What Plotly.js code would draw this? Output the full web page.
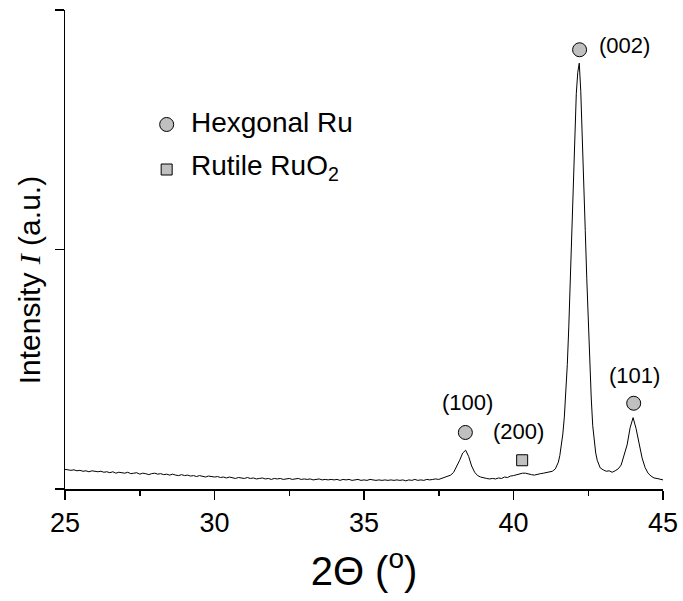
<!DOCTYPE html>
<html>
<head>
<meta charset="utf-8">
<script src="https://cdn.plot.ly/plotly-3.0.1.min.js"></script>
<style>
  html, body { margin: 0; padding: 0; background: #fff; }
  #chart { width: 683px; height: 601px; }
</style>
</head>
<body>
<div id="chart"></div>
<script>
// XRD pattern of the Ru film: 2-theta (degrees) and intensity (a.u.)
var twoTheta = [
  25.0, 25.1, 25.2, 25.3, 25.4, 25.5, 25.6, 25.7, 25.8, 25.9,
  26.0, 26.1, 26.2, 26.3, 26.4, 26.5, 26.6, 26.7, 26.8, 26.9,
  27.0, 27.1, 27.2, 27.3, 27.4, 27.5, 27.6, 27.7, 27.8, 27.9,
  28.0, 28.1, 28.2, 28.3, 28.4, 28.5, 28.6, 28.7, 28.8, 28.9,
  29.0, 29.1, 29.2, 29.3, 29.4, 29.5, 29.6, 29.7, 29.8, 29.9,
  30.0, 30.1, 30.2, 30.3, 30.4, 30.5, 30.6, 30.7, 30.8, 30.9,
  31.0, 31.1, 31.2, 31.3, 31.4, 31.5, 31.6, 31.7, 31.8, 31.9,
  32.0, 32.1, 32.2, 32.3, 32.4, 32.5, 32.6, 32.7, 32.8, 32.9,
  33.0, 33.1, 33.2, 33.3, 33.4, 33.5, 33.6, 33.7, 33.8, 33.9,
  34.0, 34.1, 34.2, 34.3, 34.4, 34.5, 34.6, 34.7, 34.8, 34.9,
  35.0, 35.1, 35.2, 35.3, 35.4, 35.5, 35.6, 35.7, 35.8, 35.9,
  36.0, 36.1, 36.2, 36.3, 36.4, 36.5, 36.6, 36.7, 36.8, 36.9,
  37.0, 37.1, 37.2, 37.3, 37.4, 37.5, 37.6, 37.7, 37.8, 37.9,
  38.0, 38.1, 38.2, 38.3, 38.4, 38.5, 38.6, 38.7, 38.8, 38.9,
  39.0, 39.1, 39.2, 39.3, 39.4, 39.5, 39.6, 39.7, 39.8, 39.9,
  40.0, 40.1, 40.2, 40.3, 40.4, 40.5, 40.6, 40.7, 40.8, 40.9,
  41.0, 41.1, 41.2, 41.3, 41.4, 41.5, 41.55, 41.6, 41.65, 41.7,
  41.75, 41.8, 41.85, 41.9, 41.95, 42.0, 42.05, 42.1, 42.15, 42.2,
  42.25, 42.3, 42.35, 42.4, 42.45, 42.5, 42.55, 42.6, 42.65, 42.7,
  42.75, 42.8, 42.85, 42.9, 43.0, 43.1, 43.2, 43.3, 43.4, 43.5,
  43.6, 43.7, 43.8, 43.9, 44.0, 44.1, 44.2, 44.3, 44.4, 44.5,
  44.6, 44.7, 44.8, 44.9, 45.0
];
var intensity = [
  41, 40, 39, 40, 38, 39, 37, 38, 36, 38,
  37, 36, 37, 35, 36, 34, 36, 33, 35, 34,
  33, 35, 32, 33, 34, 31, 33, 32, 30, 32,
  33, 31, 32, 30, 31, 29, 31, 29, 28, 30,
  28, 29, 27, 28, 26, 28, 27, 25, 27, 26,
  25, 26, 24, 25, 23, 25, 24, 22, 24, 23,
  22, 24, 22, 23, 21, 22, 23, 21, 22, 20,
  22, 21, 22, 20, 21, 22, 20, 21, 22, 20,
  21, 20, 21, 19, 20, 21, 19, 20, 19, 20,
  19, 20, 18, 20, 19, 20, 18, 19, 20, 18,
  19, 18, 20, 19, 18, 19, 18, 19, 18, 19,
  18, 19, 18, 19, 17, 19, 18, 20, 18, 19,
  18, 20, 19, 20, 21, 20, 22, 24, 26, 29,
  35, 46, 60, 75, 81, 68, 48, 35, 28, 25,
  23, 22, 21, 22, 21, 23, 22, 25, 24, 27,
  28, 30, 31, 33, 33, 31, 30, 29, 31, 32,
  33, 34, 35, 37, 42, 56, 70, 90, 115, 150,
  195, 260, 340, 440, 550, 650, 740, 825, 870, 889,
  830, 745, 640, 540, 440, 350, 270, 190, 132, 98,
  75, 60, 50, 44, 40, 37, 38, 35, 38, 42,
  50, 70, 92, 128, 149, 126, 92, 65, 45, 33,
  27, 23, 22, 20, 19
];

// Reflection markers and Miller-index labels
var ruPeakX = [38.39, 42.21, 44.02];
var ruPeakY = [118, 917, 179];
var ruoPeakX = [40.29];
var ruoPeakY = [60];
var hklText = ['(100)', '(002)', '(101)', '(200)'];
var hklX = [38.47, 43.7, 44.05, 40.18];
var hklY = [181, 925, 238, 120];

// Key for the phases
var keyX = [28.4];
var keyRuY = [761];
var keyRuoY = [667];
var keyText = ['Hexgonal Ru', 'Rutile RuO<sub>2</sub>'];
var keyTextX = [29.15];
var keyTextY = [766, 672];

var FONT = 'Arial, "Liberation Sans", sans-serif';
var markerStyle = function (symbol, size) {
  return { symbol: symbol, size: size, color: '#c0c0c0', line: { color: '#000', width: 1 } };
};

var traces = [
  { x: twoTheta, y: intensity, type: 'scatter', mode: 'lines',
    line: { color: '#000', width: 1 }, hoverinfo: 'skip' },
  { x: ruPeakX, y: ruPeakY, type: 'scatter', mode: 'markers', marker: markerStyle('circle', 14) },
  { x: ruoPeakX, y: ruoPeakY, type: 'scatter', mode: 'markers', marker: markerStyle('square', 11) },
  { x: keyX, y: keyRuY, type: 'scatter', mode: 'markers', marker: markerStyle('circle', 14) },
  { x: keyX, y: keyRuoY, type: 'scatter', mode: 'markers', marker: markerStyle('square', 11) }
];

var annotations = [];
for (var i = 0; i < hklText.length; i++) {
  annotations.push({ x: hklX[i], y: hklY[i], xref: 'x', yref: 'y', text: hklText[i],
    showarrow: false, font: { family: FONT, size: 22, color: '#000' } });
}
for (var j = 0; j < keyText.length; j++) {
  annotations.push({ x: keyTextX[0], y: keyTextY[j], xref: 'x', yref: 'y', text: keyText[j],
    xanchor: 'left', showarrow: false, font: { family: FONT, size: 28, color: '#000' } });
}
// Vertical axis title, set a little below the axis midpoint
annotations.push({
  x: -0.06, y: 0.436, xref: 'paper', yref: 'paper', textangle: -90,
  xanchor: 'center', yanchor: 'middle', showarrow: false,
  text: 'Intensity <span style="font-family:\'Times New Roman\',\'Liberation Serif\',serif"><i>I</i></span> (a.u.)',
  font: { family: FONT, size: 30, color: '#000' }
});

var layout = {
  width: 683, height: 601,
  margin: { l: 65, r: 20, t: 10, b: 112 },
  paper_bgcolor: '#fff', plot_bgcolor: '#fff',
  showlegend: false,
  font: { family: FONT, color: '#000' },
  xaxis: {
    range: [25, 45], tick0: 25, dtick: 5,
    showline: true, linecolor: '#000', linewidth: 1.5,
    ticks: 'outside', ticklen: 9, tickwidth: 1.5, tickcolor: '#000',
    minor: { dtick: 2.5, ticks: 'outside', ticklen: 5, tickwidth: 1.5, tickcolor: '#000' },
    showgrid: false, zeroline: false,
    tickfont: { family: FONT, size: 27 },
    title: { text: '2\u0398 (<sup>o</sup>)', font: { family: FONT, size: 40 }, standoff: 20 }
  },
  yaxis: {
    range: [0, 1000], tickvals: [0, 500, 1000],
    showticklabels: false,
    showline: true, linecolor: '#000', linewidth: 1.5,
    ticks: 'outside', ticklen: 9, tickwidth: 1.5, tickcolor: '#000',
    showgrid: false, zeroline: false
  },
  annotations: annotations
};

Plotly.newPlot('chart', traces, layout, { staticPlot: true, displayModeBar: false });
</script>
</body>
</html>
